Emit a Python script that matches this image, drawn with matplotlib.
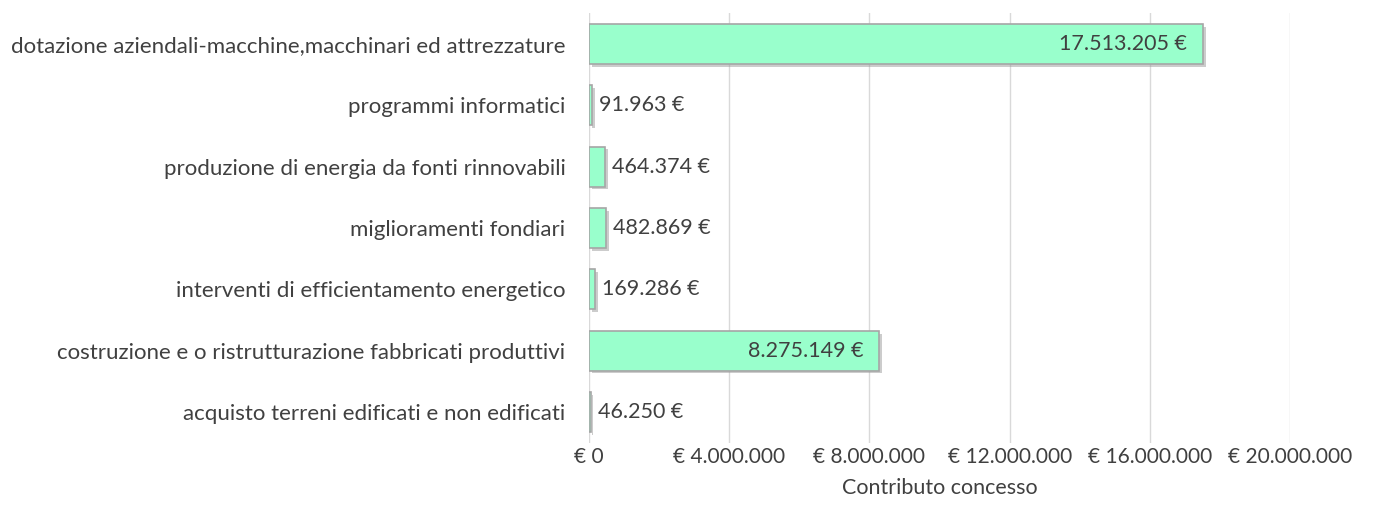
import matplotlib.pyplot as plt
import matplotlib.patheffects as pe
from matplotlib.ticker import FuncFormatter

plt.rcParams['font.family'] = ['Lato', 'DejaVu Sans']

categorie = [
    'acquisto terreni edificati e non edificati',
    'costruzione e o ristrutturazione fabbricati produttivi',
    'interventi di efficientamento energetico',
    'miglioramenti fondiari',
    'produzione di energia da fonti rinnovabili',
    'programmi informatici',
    'dotazione aziendali-macchine,macchinari ed attrezzature',
]
contributo = [46250, 8275149, 169286, 482869, 464374, 91963, 17513205]
tick_valori = [0, 4000000, 8000000, 12000000, 16000000, 20000000]


def euro(v):
    return f'{v:,.0f}'.replace(',', '.')


fig = plt.figure(figsize=(13.74, 5.23), dpi=100)
ax = fig.add_axes([0.4287, 0.1535, 0.5102, 0.8211])

testo = '#404040'
bars = ax.barh(range(len(categorie)), contributo, height=0.65,
               color='#99FFCC', edgecolor='#A6A6A6', linewidth=1.2, zorder=3)
for b in bars:
    b.set_path_effects([pe.SimplePatchShadow(offset=(2, -2), shadow_rgbFace='#9a9a9a', alpha=0.5),
                        pe.Normal()])

for i, v in enumerate(contributo):
    lab = euro(v) + ' €'
    if v > 2000000:
        ax.text(v - 450000, i, lab, ha='right', va='center', fontsize=15.5, color=testo, zorder=4)
    else:
        ax.text(v + 200000, i, lab, ha='left', va='center', fontsize=15.5, color=testo, zorder=4)

ax.set_xlim(0, 20000000)
ax.set_ylim(-0.5, len(categorie) - 0.5)
ax.set_xticks(tick_valori)
ax.xaxis.set_major_formatter(FuncFormatter(lambda v, p: '€ ' + euro(v)))
ax.set_yticks(range(len(categorie)))
ax.set_yticklabels(categorie)
ax.tick_params(axis='both', length=0, colors=testo)
ax.tick_params(axis='x', pad=3, labelsize=15)
ax.tick_params(axis='y', pad=17, labelsize=16)
ax.grid(axis='x', color='#D9D9D9', linewidth=1, zorder=0)
for s in ax.spines.values():
    s.set_visible(False)
ax.set_xlabel('Contributo concesso', fontsize=15.5, color=testo, labelpad=8)

fig.savefig('out.png', dpi=100)
